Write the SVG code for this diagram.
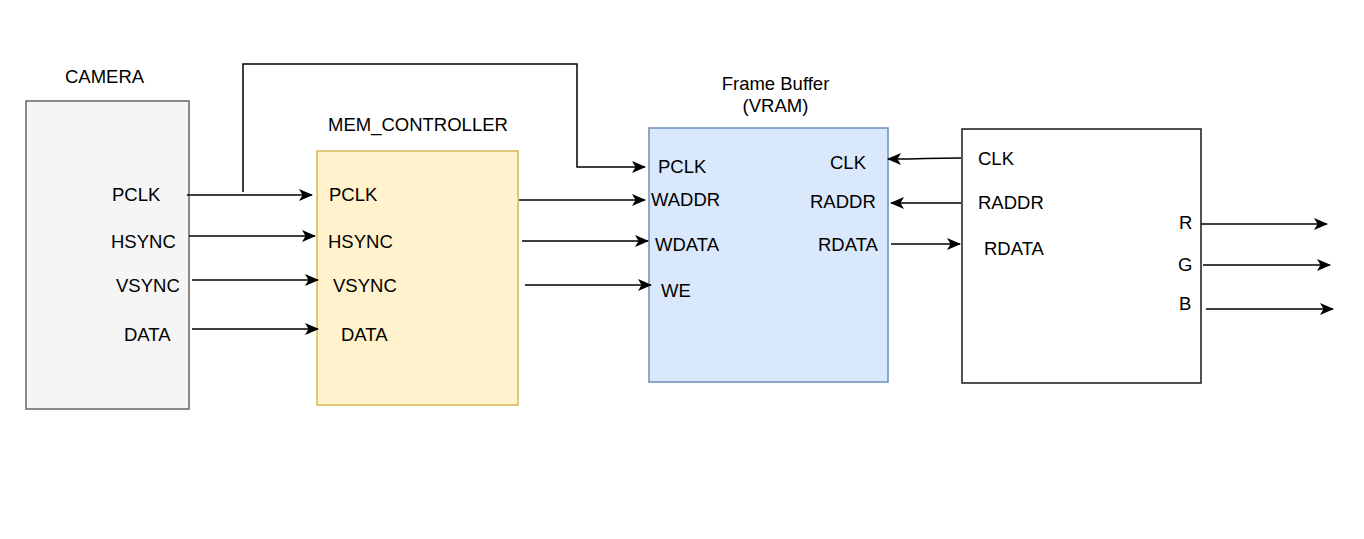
<svg xmlns="http://www.w3.org/2000/svg" width="1364" height="539" viewBox="0 0 1364 539">
<style>
text{font-family:"Liberation Sans",Arial,sans-serif;font-size:18.5px;fill:#000}
.w{stroke:#000;stroke-width:1.5;fill:none}
.a{marker-end:url(#arr)}
</style>
<defs>
<marker id="arr" viewBox="0 0 14 12" refX="13" refY="6" markerWidth="14" markerHeight="12" markerUnits="userSpaceOnUse" orient="auto">
<path d="M0,0 L14,6 L0,12 L3.5,6 Z" fill="#000"/>
</marker>
</defs>
<rect width="1364" height="539" fill="#fff"/>
<g id="camera">
<rect x="26" y="101" width="163" height="308" fill="#f5f5f5" stroke="#666" stroke-width="1.5"/>
<text x="65" y="83">CAMERA</text>
<text x="112" y="201">PCLK</text>
<text x="111" y="248">HSYNC</text>
<text x="116" y="292">VSYNC</text>
<text x="124" y="341">DATA</text>
</g>
<g id="mem_controller">
<rect x="317" y="151" width="201" height="254" fill="#fff2cc" stroke="#d6b656" stroke-width="1.5"/>
<text x="328" y="131">MEM_CONTROLLER</text>
<text x="329" y="201">PCLK</text>
<text x="328" y="248">HSYNC</text>
<text x="333" y="292">VSYNC</text>
<text x="341" y="341">DATA</text>
</g>
<g id="frame_buffer">
<rect x="649" y="128" width="239" height="254" fill="#dae8fc" stroke="#6c8ebf" stroke-width="1.5"/>
<text x="775.5" y="90" text-anchor="middle">Frame Buffer</text>
<text x="775.5" y="112" text-anchor="middle">(VRAM)</text>
<text x="658" y="173">PCLK</text>
<text x="651" y="206">WADDR</text>
<text x="655" y="251">WDATA</text>
<text x="661" y="297">WE</text>
<text x="830" y="169">CLK</text>
<text x="810" y="208">RADDR</text>
<text x="818" y="251">RDATA</text>
</g>
<g id="display_controller">
<rect x="962" y="129" width="239" height="254" fill="#fff" stroke="#1a1a1a" stroke-width="1.5"/>
<text x="978" y="165">CLK</text>
<text x="978" y="209">RADDR</text>
<text x="984" y="255">RDATA</text>
<text x="1179" y="229">R</text>
<text x="1178" y="271">G</text>
<text x="1179" y="310">B</text>
</g>
<g id="connectors">
<line class="w a" x1="187" y1="195" x2="312" y2="195"/>
<line class="w a" x1="189" y1="236" x2="315" y2="236"/>
<line class="w a" x1="192" y1="280" x2="318" y2="280"/>
<line class="w a" x1="192" y1="329" x2="318" y2="329"/>
<polyline class="w a" points="243,192 243,64 577,64 577,167 645,167"/>
<line class="w a" x1="519" y1="200" x2="645" y2="200"/>
<line class="w a" x1="522" y1="241" x2="648" y2="241"/>
<line class="w a" x1="525" y1="285" x2="651" y2="285"/>
<path class="w a" d="M961,158 L925,158.5 Q910,159 888,159"/>
<line class="w a" x1="961" y1="203" x2="891" y2="203"/>
<line class="w a" x1="891" y1="244" x2="960" y2="244"/>
<line class="w a" x1="1201" y1="224" x2="1327" y2="224"/>
<line class="w a" x1="1203" y1="265" x2="1330" y2="265"/>
<line class="w a" x1="1206" y1="309" x2="1333" y2="309"/>
</g>
</svg>
